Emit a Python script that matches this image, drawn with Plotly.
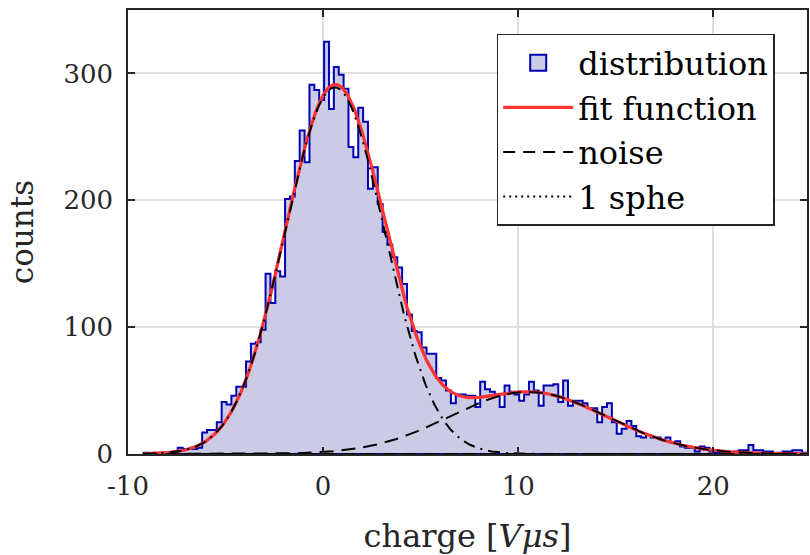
import math
import plotly.graph_objects as go

# Histogram of integrated charge: bin layout and counts per bin
bin_start = -9.2
bin_width = 0.25
counts = [
    1, 0, 1, 1, 1, 1, 2, 5, 4, 4, 4, 5,
    17, 19, 19, 25, 41, 39, 46, 53, 53, 73, 87, 88, 98,
    142, 119, 144, 140, 201, 203, 231, 255, 230, 291, 287, 279, 325,
    272, 305, 299, 288, 242, 234, 273, 262, 209, 226, 197, 175, 165, 155, 147, 134,
    110, 97, 96, 84, 79, 79, 60, 58, 50, 40, 47, 47, 46, 46, 37,
    57, 51, 49, 47, 37, 54, 49, 47, 42, 47, 57, 50, 38, 54, 54, 55, 41, 58, 38,
    42, 42, 40, 36, 36, 25, 37, 40, 25, 16, 20, 26, 22,
    14, 13, 15, 13, 13, 11, 13, 9, 10, 6, 5, 5, 2, 6, 5, 2, 1, 1, 1, 1,
    2, 3, 3, 7, 3, 3, 2, 2, 0, 1, 2, 2, 3, 3, 1, 1,
]

# Fitted model: Gaussian noise peak plus Gaussian single-photoelectron peak
noise_params = [289.0, 0.6, 2.55]    # amplitude, mean, sigma
sphe_params = [49.0, 10.5, 4.0]      # amplitude, mean, sigma

x_ticks = [-10, 0, 10, 20]
x_tick_labels = ["-10", "0", "10", "20"]
y_ticks = [0, 100, 200, 300]

FONT = "DejaVu Serif"
AXIS_COLOR = "#262626"
HIST_FILL = "#cbcbe6"
HIST_EDGE = "#0000b4"

edges = [bin_start + i * bin_width for i in range(len(counts) + 1)]

# Stairs outline of the histogram, closed along the baseline
hx, hy = [edges[0]], [0]
for i, c in enumerate(counts):
    hx += [edges[i], edges[i + 1]]
    hy += [c, c]
hx += [edges[-1], edges[0]]
hy += [0, 0]


def gauss(x, p):
    a, m, s = p
    return a * math.exp(-((x - m) ** 2) / (2 * s * s))


n_pts = 600
xs = [edges[0] + (edges[-1] - edges[0]) * i / (n_pts - 1) for i in range(n_pts)]
noise_y = [gauss(x, noise_params) for x in xs]
sphe_y = [gauss(x, sphe_params) for x in xs]
fit_y = [a + b for a, b in zip(noise_y, sphe_y)]
zero_y = [0.0 for _ in xs]

fig = go.Figure()
fig.add_trace(go.Scatter(
    x=hx, y=hy, mode="lines", fill="toself", showlegend=False,
    fillcolor=HIST_FILL, line=dict(color=HIST_EDGE, width=2),
))
# legend patch for the histogram (filled box with edge)
fig.add_trace(go.Scatter(
    x=[None], y=[None], mode="markers", name="distribution", legendrank=1,
    marker=dict(symbol="square", size=18, color=HIST_FILL,
                line=dict(color=HIST_EDGE, width=2)),
))
fig.add_trace(go.Scatter(
    x=xs, y=zero_y, mode="lines", name="noise", legendrank=3,
    line=dict(color="black", width=2, dash="12px,8px"),
))
fig.add_trace(go.Scatter(
    x=xs, y=zero_y, mode="lines", name="1 sphe", legendrank=4,
    line=dict(color="black", width=2, dash="2px,4px"),
))
fig.add_trace(go.Scatter(
    x=xs, y=fit_y, mode="lines", name="fit function", legendrank=2,
    line=dict(color="#ff3333", width=3.2),
))
fig.add_trace(go.Scatter(
    x=xs, y=noise_y, mode="lines", showlegend=False,
    line=dict(color="black", width=2, dash="12px,6px,2px,6px"),
))
fig.add_trace(go.Scatter(
    x=xs, y=sphe_y, mode="lines", showlegend=False,
    line=dict(color="black", width=2, dash="14px,8px"),
))

axis_common = dict(
    showgrid=True, gridcolor="#dfdfdf", gridwidth=1.5,
    showline=True, linecolor=AXIS_COLOR, linewidth=1.5, mirror="ticks",
    ticks="inside", ticklen=7, tickwidth=1.5, tickcolor=AXIS_COLOR,
    zeroline=False, ticklabelstandoff=8,
    tickfont=dict(family=FONT, size=26, color=AXIS_COLOR),
)

fig.update_layout(
    width=810, height=555,
    margin=dict(l=128, r=1, t=10, b=101),
    paper_bgcolor="white", plot_bgcolor="white",
    xaxis=dict(
        range=[-10, 24.8], tickmode="array", tickvals=x_ticks, ticktext=x_tick_labels,
        title=dict(text="charge [<i>Vμs</i>]", font=dict(family=FONT, size=32, color=AXIS_COLOR), standoff=26),
        **axis_common,
    ),
    yaxis=dict(
        range=[0, 350], tickmode="array", tickvals=y_ticks,
        title=dict(text="counts", font=dict(family=FONT, size=31, color=AXIS_COLOR), standoff=21),
        **axis_common,
    ),
    legend=dict(
        x=0.543, y=0.946, xanchor="left", yanchor="top",
        bgcolor="white", bordercolor=AXIS_COLOR, borderwidth=1.5,
        font=dict(family=FONT, size=32, color="black"),
        itemwidth=70, itemsizing="trace", traceorder="normal",
    ),
    showlegend=True,
)

fig.write_html("out.html")
